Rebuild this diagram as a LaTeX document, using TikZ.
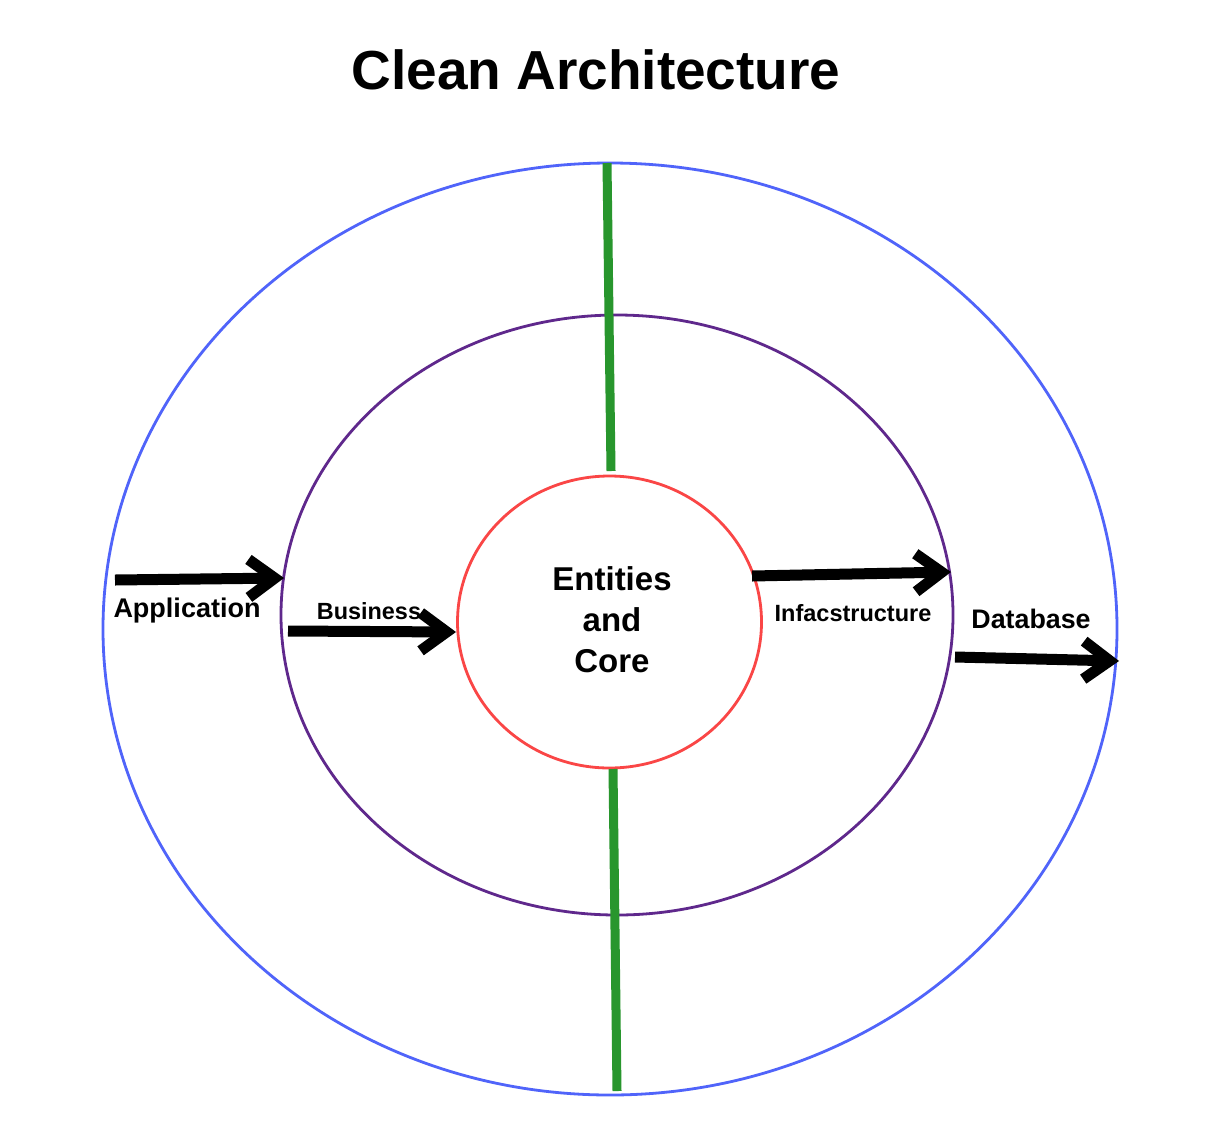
\documentclass[tikz,border=0pt]{standalone}
\usepackage{fontspec}
\setmainfont{Liberation Sans}
\usetikzlibrary{arrows.meta}
\definecolor{outerblue}{RGB}{80,100,250}
\definecolor{midpurple}{RGB}{95,40,140}
\definecolor{innerred}{RGB}{250,70,70}
\definecolor{divgreen}{RGB}{40,150,45}
\tikzset{
  ring/.style={line width=2.8pt},
  divider/.style={divgreen,line width=9pt},
  flow/.style={line width=11pt,-{Straight Barb[length=26pt,width=38pt]}},
  lbl/.style={font=\bfseries\fontsize{#1}{#1}\selectfont,inner sep=0pt},
}
\begin{document}
\begin{tikzpicture}[x=1pt,y=-1pt]
\useasboundingbox (0,0) rectangle (1217,1122);
\fill[white] (0,0) rectangle (1217,1122);
\node[lbl=55] (title) at (596,70) {Clean Architecture};
% rings
\draw[ring,outerblue] (610,629) ellipse [x radius=507,y radius=466];
\draw[ring,midpurple] (617,615) ellipse [x radius=336,y radius=300];
\draw[ring,innerred,fill=white] (609.5,622) ellipse [x radius=152,y radius=146];
% dividers
\coordinate (gt1) at (607,163);
\coordinate (gt2) at (611,471);
\coordinate (gb1) at (613,769);
\coordinate (gb2) at (617,1091);
\draw[divider] (gt1) -- (gt2);
\draw[divider] (gb1) -- (gb2);
% arrows
\coordinate (a1s) at (115,580);
\coordinate (a1e) at (284,578);
\coordinate (a2s) at (288,631);
\coordinate (a2e) at (456,632);
\coordinate (a3s) at (752,576);
\coordinate (a3e) at (951,572);
\coordinate (a4s) at (955,657);
\coordinate (a4e) at (1119,661);
\draw[flow] (a1s) -- (a1e);
\draw[flow] (a2s) -- (a2e);
\draw[flow] (a3s) -- (a3e);
\draw[flow] (a4s) -- (a4e);
% labels
\node[lbl=33,align=center,font=\bfseries\fontsize{33}{41}\selectfont] (core) at (612,620) {Entities\\and\\Core};
\node[lbl=27] (app) at (187,611) {Application};
\node[lbl=23.4] (bus) at (369,611) {Business};
\node[lbl=23.5] (infra) at (853,613) {Infacstructure};
\node[lbl=26.8] (db) at (1031,619) {Database};
\end{tikzpicture}
\end{document}
